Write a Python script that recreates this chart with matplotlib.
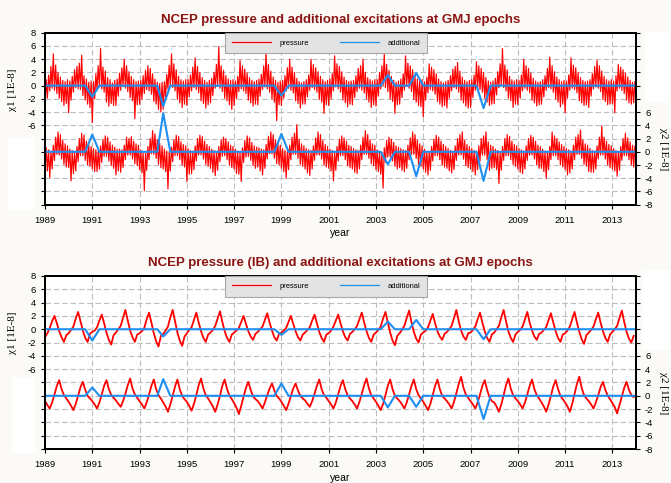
import numpy as np
import matplotlib
matplotlib.use('Agg')
import matplotlib.pyplot as plt
from matplotlib.patches import Rectangle

# pressure excitation: every 0.05 year (top panel), every 0.1 year (IB panel)
years = 1989 + np.arange(500) / 20.0
years_ib = 1989 + np.arange(250) / 10.0

chi1_press = [
    -2.6, 0.9, -1.9, 1.6, -0.8, 2.9, -0.4, 4.8, -0.7, 3.1, -1.2, 2.0, -1.9, 1.3, -2.4, 0.8, -3.0, 0.6, -2.7, 0.9,
    -4.1, 0.7, -2.2, 1.4, -1.0, 2.4, -0.3, 2.9, -0.5, 3.4, -0.6, 4.6, -1.5, 1.5, -2.2, 1.0, -2.8, 0.5, -3.3, 0.7,
    -5.6, 0.6, -2.0, 1.8, -0.6, 3.0, -0.2, 5.6, -0.5, 2.8, -1.0, 2.2, -2.5, 1.2, -3.1, 0.9, -2.7, 0.4, -3.0, 0.8,
    -3.0, 1.0, -1.6, 1.9, -0.7, 2.7, -0.1, 4.0, -0.4, 3.0, -0.9, 2.1, -1.8, 1.4, -2.3, 0.9, -5.0, 0.6, -2.9, 0.7,
    -2.8, 0.8, -2.1, 1.5, -1.2, 2.3, -0.6, 3.0, -0.8, 2.6, -1.3, 1.8, -2.4, 1.0, -2.8, 0.5, -3.6, 0.3, -4.0, 0.5,
    -3.6, 0.6, -1.8, 1.7, -0.5, 3.1, 0.0, 4.8, -0.3, 3.3, -0.8, 2.4, -2.1, 1.4, -2.6, 0.9, -3.3, 0.7, -2.8, 0.9,
    -3.0, 0.9, -1.7, 1.6, -0.8, 2.8, -0.3, 4.2, -0.6, 2.9, -1.1, 2.0, -2.3, 1.2, -2.7, 0.8, -3.4, 0.5, -2.9, 0.8,
    -2.6, 1.1, -1.5, 2.0, -0.4, 3.2, -0.1, 5.9, -0.4, 3.0, -0.9, 2.3, -1.9, 1.5, -2.3, 1.0, -2.9, 0.8, -3.6, 0.9,
    -3.0, 0.7, -2.0, 1.4, -0.9, 3.8, -0.5, 3.0, -0.8, 2.5, -1.2, 1.9, -2.2, 1.2, -2.6, 0.8, -3.1, 0.6, -2.8, 0.8,
    -2.9, 1.0, -1.6, 1.7, -0.6, 3.0, -0.2, 5.0, -0.5, 3.2, -1.0, 2.2, -2.0, 1.3, -2.5, 0.8, -5.3, 0.5, -2.9, 0.7,
    -3.0, 0.8, -1.9, 1.5, -0.8, 2.7, -0.4, 4.0, -0.7, 2.8, -1.1, 2.0, -2.3, 1.1, -2.7, 0.6, -3.4, 0.4, -2.8, 0.6,
    -2.8, 0.9, -1.7, 1.6, -0.7, 4.0, -0.3, 3.2, -0.6, 2.7, -1.0, 2.1, -2.1, 1.4, -2.5, 0.9, -4.2, 0.6, -2.9, 0.8,
    -3.0, 1.0, -2.0, 1.8, -0.8, 4.5, -0.2, 3.3, -0.5, 2.9, -1.0, 2.1, -2.2, 1.3, -2.6, 0.8, -3.2, 0.6, -2.8, 0.7,
    -2.9, 0.8, -1.8, 1.5, -0.9, 2.6, -0.4, 3.0, -0.7, 4.0, -1.1, 2.0, -2.0, 1.2, -2.5, 0.9, -3.3, 0.7, -2.9, 0.9,
    -3.1, 0.9, -1.6, 2.0, -0.5, 3.0, 0.0, 4.8, -0.3, 3.2, -0.9, 2.3, -2.0, 1.4, -2.4, 0.8, -4.2, 0.5, -2.9, 0.7,
    -2.8, 1.0, -1.8, 1.8, -0.7, 4.5, -0.1, 3.4, -0.4, 3.0, -0.9, 2.4, -2.1, 1.5, -2.5, 1.0, -3.0, 0.8, -3.2, 0.9,
    -4.7, 0.6, -2.2, 1.3, -1.1, 3.3, -0.6, 2.8, -0.8, 2.4, -1.3, 1.8, -2.4, 1.0, -2.8, 0.6, -3.2, 0.4, -3.0, 0.6,
    -3.4, 0.8, -1.9, 1.5, -0.8, 2.5, -0.3, 2.9, -0.5, 3.5, -1.0, 2.2, -2.2, 1.3, -2.6, 0.8, -3.1, 0.6, -3.4, 0.8,
    -3.3, 0.9, -1.8, 1.6, -0.7, 3.6, -0.4, 3.0, -0.6, 2.6, -1.0, 2.0, -2.0, 1.2, -2.5, 0.7, -3.0, 0.5, -2.8, 0.7,
    -2.7, 1.1, -1.4, 2.1, -0.3, 3.3, 0.0, 5.6, -0.3, 3.1, -0.8, 2.4, -1.9, 1.4, -2.3, 0.9, -3.3, 0.7, -2.8, 0.9,
    -2.9, 0.8, -1.9, 1.6, -0.8, 4.0, -0.4, 3.0, -0.7, 2.6, -1.1, 1.9, -2.2, 1.1, -2.6, 0.7, -3.1, 0.5, -2.9, 0.6,
    -2.8, 0.9, -1.7, 1.5, -0.7, 2.6, -0.3, 4.3, -0.5, 3.0, -1.0, 2.1, -2.0, 1.3, -2.5, 0.9, -3.2, 0.6, -2.8, 0.8,
    -4.1, 0.7, -1.9, 1.6, -0.7, 4.2, -0.4, 3.1, -0.6, 2.7, -1.1, 2.0, -2.3, 1.2, -2.6, 0.8, -3.0, 0.6, -2.9, 0.7,
    -3.3, 0.9, -1.6, 1.8, -0.5, 2.9, -0.2, 3.8, -0.4, 3.0, -0.9, 2.2, -2.1, 1.4, -2.4, 0.9, -2.9, 0.7, -2.8, 0.9,
    -2.7, 0.7, -4.1, 1.5, -0.8, 3.2, -0.4, 2.8, -0.7, 2.4, -1.2, 1.9, -2.2, 1.3, -2.6, 0.8, -2.8, 0.5, -2.6, 0.6,
]

chi2_press = [
    -2.5, 0.6, -2.9, 0.3, -3.9, 0.1, -2.6, 1.0, -1.3, 2.2, -0.4, 3.0, -0.5, 2.6, -1.1, 1.7, -1.9, 1.2, -2.3, 0.9,
    -2.4, 0.4, -4.4, 0.2, -3.3, -0.1, -2.9, 0.8, -1.5, 2.0, -0.6, 2.8, -0.6, 2.5, -1.3, 1.6, -2.0, 1.1, -2.2, 0.8,
    -2.6, 0.5, -3.0, 0.3, -3.0, 0.1, -2.6, 0.9, -1.6, 1.9, -0.7, 2.4, -0.7, 2.2, -1.4, 1.5, -2.1, 1.0, -2.5, 0.7,
    -3.5, 0.4, -2.9, 0.4, -3.1, 0.3, -2.4, 1.0, -1.2, 2.2, -0.5, 2.0, -0.5, 2.3, -1.1, 1.6, -1.8, 1.2, -2.1, 1.0,
    -2.7, 0.3, -3.2, 0.0, -5.9, -0.2, -2.8, 0.8, -1.2, 2.0, -0.3, 3.2, -0.4, 2.7, -1.0, 1.8, -1.9, 1.3, -2.4, 0.9,
    -2.6, 0.4, -3.0, 0.1, -5.6, 0.0, -2.9, 0.7, -1.5, 1.8, -0.6, 2.5, -0.6, 2.3, -1.2, 1.5, -2.0, 1.1, -2.3, 0.9,
    -4.5, 0.5, -3.4, 0.2, -3.3, 0.1, -2.7, 0.9, -1.4, 2.0, -0.5, 2.5, -0.5, 2.3, -1.1, 1.6, -1.9, 1.1, -2.2, 0.8,
    -2.5, 0.4, -3.1, 0.2, -3.6, 0.0, -2.8, 0.8, -1.5, 1.8, -0.7, 2.2, -0.6, 2.0, -1.2, 1.5, -2.0, 1.0, -2.4, 0.8,
    -2.6, 0.4, -3.3, 0.1, -3.4, -0.1, -4.5, 0.6, -1.6, 1.7, -0.8, 2.4, -0.7, 2.1, -1.3, 1.4, -2.1, 0.9, -2.5, 0.7,
    -2.3, 0.6, -2.9, 0.4, -3.5, 0.3, -2.5, 1.1, -1.1, 2.3, -0.3, 3.0, -0.3, 2.6, -1.0, 1.8, -1.8, 1.3, -2.0, 1.0,
    -2.5, 0.5, -3.0, 0.2, -4.0, 0.1, -2.7, 1.0, -1.2, 2.2, -0.4, 2.8, -0.4, 4.1, -1.0, 1.9, -1.9, 1.2, -2.2, 0.9,
    -2.6, 0.5, -3.2, 0.3, -3.6, 0.2, -2.6, 0.9, -1.3, 2.1, -0.5, 3.0, -0.5, 2.6, -1.1, 1.7, -2.0, 1.1, -2.3, 0.8,
    -2.5, 0.4, -2.9, 0.2, -4.4, 0.0, -2.8, 0.8, -1.4, 1.9, -0.6, 2.4, -0.6, 2.1, -1.2, 1.6, -2.1, 1.0, -2.4, 0.8,
    -2.6, 0.5, -3.1, 0.3, -3.3, 0.2, -2.6, 1.0, -1.2, 2.2, -0.4, 3.2, -0.4, 2.6, -1.0, 1.8, -1.8, 1.2, -2.1, 1.0,
    -2.7, 0.3, -3.0, 0.0, -3.4, -0.2, -5.5, 0.6, -1.6, 1.7, -0.8, 2.2, -0.8, 1.9, -1.4, 1.4, -2.2, 0.9, -2.6, 0.7,
    -2.4, 0.5, -2.8, 0.3, -3.0, 0.2, -2.5, 1.0, -1.2, 2.1, -0.4, 3.0, -0.4, 2.6, -1.0, 1.8, -1.9, 1.2, -2.2, 0.9,
    -2.6, 0.4, -3.1, 0.1, -3.5, 0.0, -2.8, 0.8, -1.4, 1.9, -0.6, 2.5, -0.6, 2.2, -1.2, 1.6, -2.0, 1.1, -2.3, 0.8,
    -2.5, 0.5, -2.9, 0.2, -3.2, 0.1, -2.7, 0.9, -1.3, 2.0, -0.5, 2.6, -0.5, 3.0, -1.1, 1.7, -2.1, 1.1, -2.4, 0.8,
    -2.6, 0.5, -3.0, 0.2, -3.5, 0.1, -2.7, 0.9, -1.4, 2.0, -0.5, 2.4, -0.5, 3.0, -1.2, 1.5, -2.8, 1.0, -2.5, 0.8,
    -2.4, 0.4, -2.7, 0.2, -4.8, 0.0, -2.8, 0.8, -1.3, 2.0, -0.6, 2.6, -0.6, 2.3, -1.2, 1.6, -1.9, 1.1, -2.2, 0.9,
    -2.6, 0.5, -3.1, 0.3, -3.3, 0.1, -2.6, 0.9, -1.3, 2.0, -0.5, 2.5, -0.5, 2.2, -1.1, 1.6, -2.0, 1.0, -2.5, 0.8,
    -2.5, 0.4, -3.0, 0.1, -4.0, 0.0, -2.7, 0.8, -1.2, 3.0, -0.6, 2.4, -0.6, 2.0, -1.2, 1.5, -2.0, 1.1, -2.3, 0.8,
    -2.7, 0.5, -3.5, 0.3, -3.2, 0.1, -2.6, 1.0, -1.2, 2.2, -0.4, 2.6, -0.4, 3.3, -1.0, 1.8, -1.9, 1.2, -2.2, 1.0,
    -3.0, 0.5, -3.1, 0.2, -3.1, 0.1, -2.6, 0.9, -1.1, 2.2, -0.5, 3.9, -0.5, 2.2, -1.1, 1.6, -2.0, 1.1, -2.4, 0.9,
    -2.6, 0.5, -2.9, 0.2, -3.7, 0.0, -2.8, 0.8, -1.3, 2.0, -0.6, 2.8, -0.6, 2.1, -1.2, 1.5, -2.0, 1.0, -2.3, 0.8,
]

chi1_press_ib = [
    -1.2, -0.6, 0.2, 1.2, 2.0, 0.9, -0.3, -1.2, -1.9, -0.9,
    -0.6, -0.1, 0.4, 1.6, 2.6, 1.2, -0.2, -1.3, -1.9, -0.7,
    -0.4, -0.2, 0.3, 1.3, 2.2, 0.9, -0.5, -1.6, -2.3, -0.9,
    -0.5, 0.0, 0.5, 1.7, 2.9, 1.3, -0.2, -1.2, -1.9, -0.8,
    -0.6, -0.3, 0.2, 1.5, 2.5, 1.0, -0.6, -1.8, -2.6, -1.0,
    -0.7, -0.2, 0.4, 1.8, 2.9, 1.2, -0.5, -1.7, -2.5, -1.1,
    -0.6, -0.1, 0.3, 1.4, 2.5, 1.0, -0.3, -1.3, -1.9, -0.8,
    -0.5, -0.1, 0.5, 1.6, 2.7, 1.1, -0.3, -1.3, -1.9, -0.8,
    -0.5, -0.2, 0.2, 1.1, 2.0, 0.8, -0.3, -1.1, -1.6, -0.7,
    -0.4, 0.0, 0.4, 1.4, 2.4, 1.0, -0.2, -1.2, -1.7, -0.7,
    -0.5, -0.2, 0.2, 1.1, 2.0, 0.8, -0.3, -1.2, -1.7, -0.8,
    -0.5, -0.1, 0.3, 1.3, 2.2, 0.9, -0.4, -1.3, -1.9, -0.8,
    -0.6, -0.2, 0.4, 1.3, 2.2, 0.9, -0.3, -1.2, -1.7, -0.7,
    -0.4, 0.0, 0.5, 1.5, 2.5, 1.0, -0.3, -1.3, -1.9, -0.8,
    -0.5, -0.1, 0.4, 1.6, 2.6, 1.0, -0.5, -1.7, -2.4, -1.0,
    -0.6, -0.1, 0.5, 1.7, 2.8, 1.1, -0.4, -1.4, -2.0, -0.8,
    -0.5, -0.2, 0.3, 1.3, 2.3, 0.9, -0.3, -1.1, -1.6, -0.7,
    -0.4, 0.0, 0.5, 1.7, 2.9, 1.2, -0.2, -1.1, -1.6, -0.6,
    -0.5, -0.1, 0.4, 1.5, 2.5, 1.0, -0.3, -1.3, -1.9, -0.8,
    -0.5, 0.0, 0.5, 1.8, 2.9, 1.2, -0.3, -1.3, -1.9, -0.8,
    -0.4, -0.1, 0.4, 1.5, 2.6, 1.0, -0.2, -1.1, -1.6, -0.7,
    -0.5, -0.1, 0.3, 1.4, 2.4, 1.0, -0.3, -1.3, -1.9, -0.8,
    -0.6, -0.2, 0.4, 1.5, 2.6, 1.0, -0.4, -1.5, -2.2, -0.9,
    -0.5, -0.1, 0.4, 1.5, 2.5, 1.0, -0.3, -1.3, -1.9, -0.8,
    -0.4, 0.0, 0.5, 1.7, 2.8, 1.1, -0.4, -1.4, -2.0, -1.0,
]

chi2_press_ib = [
    -0.8, -1.4, -1.9, -1.0, 0.2, 1.5, 2.35, 1.0, 0.1, -0.4,
    -0.9, -1.5, -2.15, -1.2, 0.0, 1.3, 2.1, 0.9, 0.0, -0.4,
    -0.8, -1.3, -1.9, -1.0, 0.2, 1.5, 2.35, 1.0, 0.1, -0.3,
    -0.7, -1.2, -1.65, -0.8, 0.3, 1.6, 2.6, 1.1, 0.2, -0.3,
    -0.8, -1.3, -1.9, -1.0, 0.2, 1.5, 2.45, 1.0, 0.1, -0.4,
    -1.0, -1.6, -2.4, -1.3, 0.0, 1.4, 2.45, 1.0, 0.0, -0.5,
    -0.9, -1.5, -2.25, -1.2, 0.1, 1.6, 2.6, 1.1, 0.1, -0.4,
    -1.0, -1.6, -2.4, -1.3, 0.0, 1.5, 2.45, 1.0, 0.0, -0.5,
    -1.1, -1.8, -2.75, -1.5, -0.1, 1.2, 2.1, 0.9, -0.1, -0.5,
    -0.8, -1.3, -1.9, -1.0, 0.1, 1.1, 1.85, 0.8, 0.0, -0.4,
    -0.9, -1.5, -2.15, -1.2, 0.0, 1.1, 1.85, 0.8, 0.0, -0.4,
    -0.7, -1.2, -1.65, -0.8, 0.3, 1.5, 2.45, 1.0, 0.1, -0.3,
    -0.8, -1.3, -1.9, -1.0, 0.2, 1.5, 2.35, 1.0, 0.1, -0.4,
    -0.8, -1.3, -1.9, -0.9, 0.3, 1.6, 2.6, 1.1, 0.1, -0.4,
    -0.9, -1.5, -2.15, -1.2, 0.1, 1.5, 2.45, 1.0, 0.0, -0.4,
    -0.8, -1.3, -1.9, -1.0, 0.2, 1.5, 2.45, 1.0, 0.1, -0.4,
    -0.9, -1.5, -2.15, -1.2, 0.1, 1.5, 2.45, 1.0, 0.0, -0.4,
    -0.8, -1.3, -1.9, -0.9, 0.4, 1.8, 2.85, 1.2, 0.2, -0.3,
    -0.8, -1.3, -1.9, -1.0, 0.2, 1.5, 2.35, 0.9, -0.2, -0.8,
    -1.0, -1.6, -2.4, -1.3, 0.1, 1.6, 2.6, 1.1, 0.1, -0.4,
    -0.8, -1.3, -1.9, -1.0, 0.2, 1.5, 2.45, 1.0, 0.1, -0.4,
    -1.0, -1.6, -2.4, -1.3, 0.0, 1.4, 2.35, 1.0, 0.0, -0.5,
    -1.0, -1.6, -2.4, -1.2, 0.3, 1.8, 2.85, 1.2, 0.1, -0.4,
    -0.8, -1.3, -1.9, -1.0, 0.1, 1.3, 2.1, 0.9, 0.0, -0.5,
    -1.1, -1.7, -2.65, -1.4, -0.1, 1.2, 2.1, 0.9, 0.1, -0.2,
]

# additional excitations at GMJ epochs (triangles)
add_years = [1989.0, 1990.7, 1991.0, 1991.3, 1993.75, 1994.0, 1994.3, 1998.7, 1999.0, 1999.3,
             2003.2, 2003.5, 2003.8, 2004.4, 2004.7, 2005.0, 2007.25, 2007.55, 2007.85, 2014.0]
chi1_add = [0, 0, -1.7, 0, 0, -3.1, 0, 0, -1.5, 0, 0, 1.6, 0, 0, 1.9, 0, 0, -3.4, 0, 0]
chi2_add = [0, 0, 2.6, 0, 0, 5.8, 0, 0, 2.7, 0, 0, -1.9, 0, 0, -3.7, 0, 0, -4.4, 0, 0]
chi1_add_ib = [0, 0, -1.7, 0, 0, -1.1, 0, 0, -0.85, 0, 0, 1.15, 0, 0, 1.4, 0, 0, -1.5, 0, 0]
chi2_add_ib = [0, 0, 1.25, 0, 0, 2.5, 0, 0, 1.85, 0, 0, -1.75, 0, 0, -1.65, 0, 0, -3.5, 0, 0]

titles = ['NCEP pressure and additional excitations at GMJ epochs',
          'NCEP pressure (IB) and additional excitations at GMJ epochs']

red = '#ff0000'
blue = '#1e8ef0'
title_col = '#8b1414'
sans = 'Liberation Sans'
serif = 'Liberation Serif'

fig = plt.figure(figsize=(6.71, 4.83), dpi=100, facecolor='#fbfaf6')

panels = [
    (fig.add_axes([0.0671, 0.5762, 0.8808, 0.3561]), years, chi1_press, chi2_press, chi1_add, chi2_add, 0.85),
    (fig.add_axes([0.0671, 0.0703, 0.8808, 0.3583]), years_ib, chi1_press_ib, chi2_press_ib, chi1_add_ib, chi2_add_ib, 1.3),
]

for i, (ax, t, p1, p2, a1, a2, lw) in enumerate(panels):
    ax.set_facecolor('white')
    ax.set_xlim(1989, 2014)
    ax.set_ylim(-18, 8)
    ax.plot(t, p1, color=red, lw=lw)
    ax.plot(add_years, a1, color=blue, lw=1.5)

    lt = np.arange(-18, 9, 2)
    ax.set_yticks(lt)
    ax.set_yticklabels([str(v) if v >= -6 else '' for v in lt], fontsize=6.8, family=sans)
    ax.set_xticks(range(1989, 2014, 2))
    ax.set_xticklabels([str(y) for y in range(1989, 2014, 2)], fontsize=6.8, family=sans)
    ax.tick_params(direction='out', length=3, width=0.8, pad=3.5)
    ax.tick_params(axis='x', pad=5)
    ax.set_axisbelow(True)
    ax.grid(True, color='#bdbdbd', ls=(0, (5, 2.5)), lw=0.8)
    for s in ax.spines.values():
        s.set_linewidth(1.4)

    ax.set_xlabel('year', fontsize=7.5, family=sans, labelpad=2.5)
    ax.set_ylabel('χ1 [1E-8]', fontsize=8, family=serif)
    ax.yaxis.set_label_coords(-0.047, 0.67)
    ax.set_title(titles[i], color=title_col, fontsize=9.5, fontweight='bold', family=sans, pad=7)

    axr = ax.twinx()
    axr.set_ylim(-8, 18)
    l1, = axr.plot(t, p2, color=red, lw=lw, label='pressure')
    l2, = axr.plot(add_years, a2, color=blue, lw=1.5, label='additional')
    rt = np.arange(-8, 19, 2)
    axr.set_yticks(rt)
    axr.set_yticklabels([str(v) if v <= 6 else '' for v in rt], fontsize=6.8, family=sans)
    axr.tick_params(direction='out', length=3, width=0.8, pad=3.5)
    axr.set_ylabel('χ2 [1E-8]', fontsize=8, family=serif, rotation=270, va='center')
    axr.yaxis.set_label_coords(1.046, 0.32)
    for s in axr.spines.values():
        s.set_linewidth(1.4)

    leg = axr.legend([l1, l2], ['pressure', 'additional'], ncol=2, loc='upper left',
                     bbox_to_anchor=(0.305, 1.0), borderaxespad=0,
                     prop={'family': sans, 'size': 5.4}, handlelength=5.2,
                     handletextpad=1.1, columnspacing=4.2, borderpad=0.9,
                     fancybox=False, framealpha=1)
    leg.get_frame().set_facecolor('#e3e3e3')
    leg.get_frame().set_edgecolor('#a8a8a8')
    leg.get_frame().set_linewidth(0.8)
    for h in leg.get_lines():
        h.set_linewidth(0.9)

# white boxes behind the hidden tick labels
for x0, y0, w, h in [(8, 137, 27, 73), (645, 32, 25, 71), (12, 377, 23, 76), (643, 270, 27, 80)]:
    fig.add_artist(Rectangle((x0 / 671, 1 - (y0 + h) / 483), w / 671, h / 483,
                             transform=fig.transFigure, fc='white', ec='none', zorder=-1))

plt.savefig('out.png', dpi=100, facecolor=fig.get_facecolor())
